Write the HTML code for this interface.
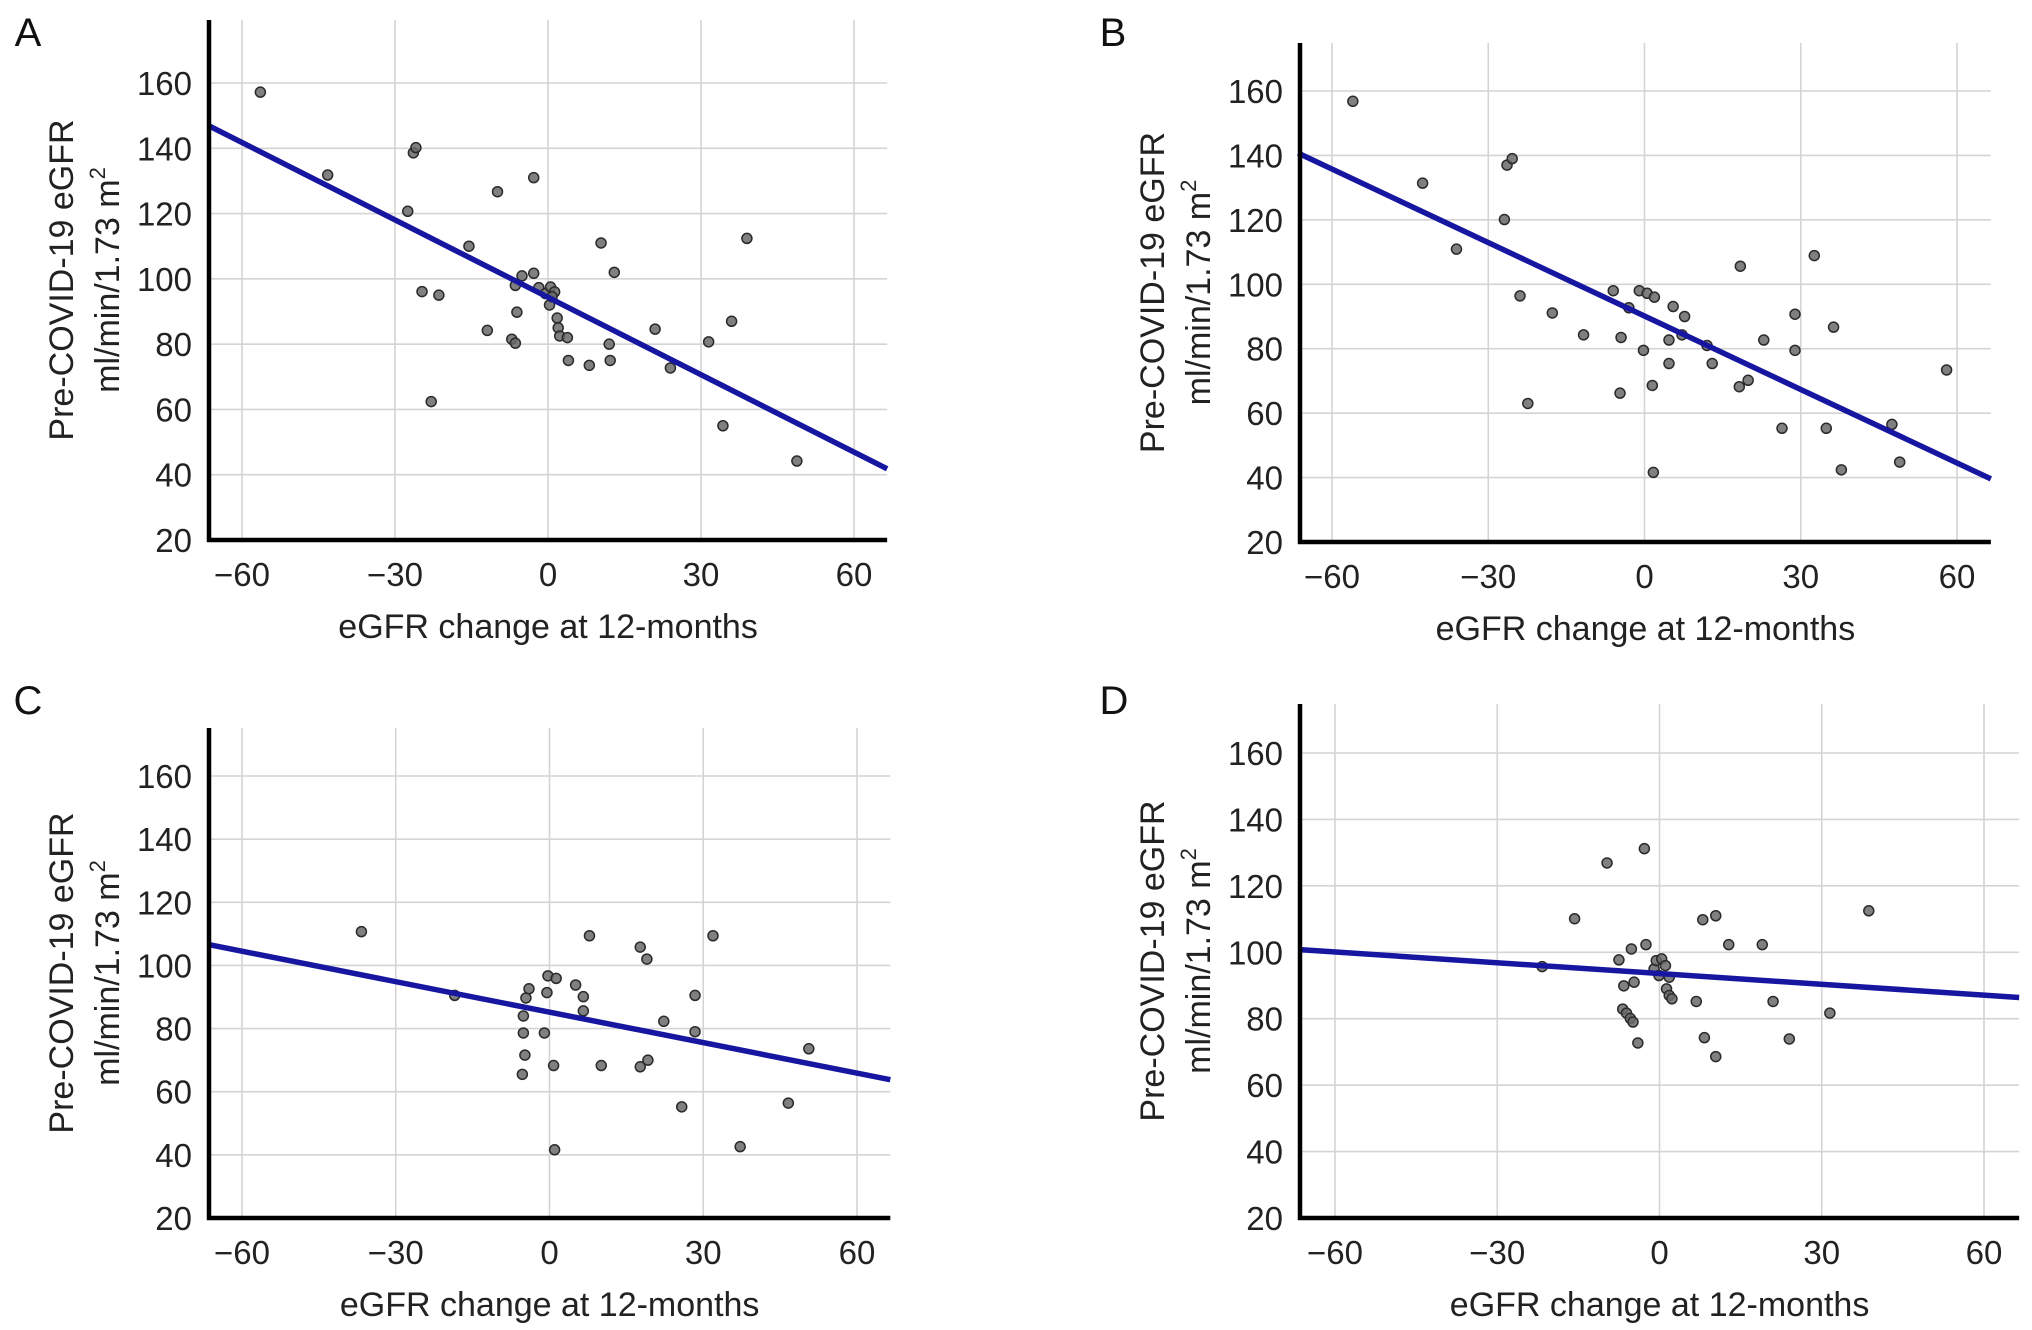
<!DOCTYPE html>
<html><head><meta charset="utf-8"><style>
html,body{margin:0;padding:0;background:#fff;}
svg{display:block;font-family:"Liberation Sans",Arial,sans-serif;}
</style></head><body>
<svg id="fig" width="2032" height="1330" viewBox="0 0 2032 1330" xmlns="http://www.w3.org/2000/svg"></svg>
<script>
// Shared tick values
const xTicks = [-60, -30, 0, 30, 60];
const yTicks = [20, 40, 60, 80, 100, 120, 140, 160];
const xDomain = [-66.5, 66.5];

// Panel A data
const aX = [-56.4,-43.2,-27.5,-26.4,-25.9,-24.7,-21.4,-22.9,-15.5,-11.9,-9.9,-7.1,-6.4,-6.1,-6.4,-5.1,-2.8,-2.8,-1.8,-0.5,0.5,1.3,0.3,0.8,1.8,2.0,2.3,3.8,4.0,8.1,10.4,12.0,12.2,13.0,21.0,24.0,31.5,34.3,36.0,39.0,48.8];
const aY = [157.2,131.8,120.7,138.6,140.2,96.1,95.0,62.4,110.0,84.2,126.7,81.5,80.3,89.8,98.0,100.9,131.0,101.7,97.3,95.5,97.5,96.0,92.0,94.5,88.0,85.0,82.5,82.0,75.0,73.5,111.0,80.0,75.0,102.0,84.6,72.7,80.7,55.0,87.0,112.4,44.2];
const aLine = [146.9, 41.8];

// Panel B data
const bX = [-56.0,-42.6,-36.1,-26.9,-26.4,-25.4,-23.9,-22.4,-17.7,-11.7,-6.0,-4.7,-4.5,-3.0,-1.0,-0.2,0.5,1.9,1.5,1.7,4.7,5.5,4.7,7.2,7.7,12.0,13.0,22.9,18.4,18.2,19.9,26.4,28.9,28.9,32.6,34.9,36.3,37.8,47.5,49.0,58.0];
const bY = [156.8,131.4,110.9,120.1,137.0,139.0,96.4,63.0,91.1,84.3,98.0,66.2,83.5,92.7,98.0,79.5,97.2,96.0,68.6,41.6,82.7,93.1,75.4,84.3,90.0,81.0,75.4,82.7,105.6,68.2,70.2,55.3,90.7,79.5,108.9,55.3,86.7,42.4,56.5,44.8,73.4];
const bLine = [140.7, 39.6];

// Panel C data
const cX = [-36.7,-18.5,-5.3,-4.8,-5.1,-5.1,-4.6,-4.0,-1.0,-0.5,-0.3,1.3,1.0,0.8,5.1,6.6,6.6,7.8,10.1,17.7,19.0,17.7,19.2,22.3,25.8,28.4,28.4,31.9,37.2,46.6,50.6];
const cY = [110.7,90.5,65.5,71.6,78.6,84.0,89.7,92.6,78.6,91.4,96.7,95.9,41.6,68.3,93.8,90.1,85.6,109.4,68.3,105.8,102.0,67.9,70.0,82.3,55.2,90.5,79.0,109.4,42.6,56.4,73.6];
const cLine = [106.6, 63.8];

// Panel D data
const dX = [-21.7,-15.7,-9.7,-7.5,-6.8,-6.1,-5.4,-4.9,-6.6,-4.7,-4.0,-2.8,-2.5,-5.2,-1.0,-0.6,0.4,-0.1,1.1,1.8,1.3,1.8,2.3,6.8,8.0,8.3,10.4,10.4,12.8,19.0,21.0,24.0,31.5,38.7];
const dY = [95.7,110.1,126.9,97.7,82.9,81.7,80.1,79.0,89.9,91.0,72.7,131.2,102.3,101.0,95.0,97.5,98.0,93.0,96.0,92.5,89.0,87.0,86.0,85.2,109.8,74.3,111.0,68.6,102.3,102.3,85.2,73.9,81.7,112.5];
const dLine = [100.8, 86.4];

const svg = document.getElementById('fig');
const NS = 'http://www.w3.org/2000/svg';
function mk(tag, attrs, parent) {
  const e = document.createElementNS(NS, tag);
  for (const k in attrs) e.setAttribute(k, attrs[k]);
  (parent || svg).appendChild(e);
  return e;
}

function panel(cfg, xs, ys, lineEnds) {
  const g = mk('g', {});
  
  
  const xScale = v => cfg.xm60 + (v + 60) * (cfg.x60 - cfg.xm60) / 120;
  const yScale = v => cfg.axY + (v - 20) * (cfg.y160 - cfg.axY) / 140;
  const left = xScale(xDomain[0]);
  const right = xScale(xDomain[1]);
  yTicks.forEach(t => {
    if (t === 20) return;
    const l = mk('line', {x1: cfg.axX, x2: right, y1: yScale(t), y2: yScale(t), stroke: '#d4d4d4', 'stroke-width': 1.6}, g);
    
    
  });
  xTicks.forEach(t => {
    const l = mk('line', {x1: xScale(t), x2: xScale(t), y1: cfg.top, y2: cfg.axY, stroke: '#d4d4d4', 'stroke-width': 1.6}, g);
    
    
  });
  xs.forEach((xv, i) => {
    const c = mk('circle', {cx: xScale(xv), cy: yScale(ys[i]), r: 5, fill: '#6a6a6a', stroke: '#2a2a2a', 'stroke-width': 1.5, 'fill-opacity': 0.85}, g);
    
    
  });
  const rl = mk('line', {x1: left, y1: yScale(lineEnds[0]), x2: right, y2: yScale(lineEnds[1]), stroke: '#1616a0', 'stroke-width': 5.5}, g);
  
  
  const ya = mk('line', {x1: cfg.axX, x2: cfg.axX, y1: cfg.top, y2: cfg.axY + 2, stroke: '#000', 'stroke-width': 4.5}, g);
  
  
  const xa = mk('line', {x1: cfg.axX - 2, x2: right, y1: cfg.axY, y2: cfg.axY, stroke: '#000', 'stroke-width': 4.5}, g);
  
  
  yTicks.forEach(t => {
    const tx = mk('text', {x: cfg.axX - 17, y: yScale(t) + 12, 'text-anchor': 'end', 'font-size': 33, fill: '#222'}, g);
    tx.textContent = t;
    
    
  });
  xTicks.forEach(t => {
    const tx = mk('text', {x: xScale(t), y: cfg.axY + 46, 'text-anchor': 'middle', 'font-size': 33, fill: '#222'}, g);
    tx.textContent = t < 0 ? '\u2212' + Math.abs(t) : t;
    
    
  });
  const xt = mk('text', {x: (cfg.axX + right) / 2, y: cfg.axY + 98, 'text-anchor': 'middle', 'font-size': 34, fill: '#222'}, g);
  xt.textContent = 'eGFR change at 12-months';
  
  
  const cy = (cfg.top + cfg.axY) / 2;
  const y1 = mk('text', {x: 0, y: 0, 'text-anchor': 'middle', 'font-size': 34, fill: '#222', transform: `translate(${cfg.axX - 136},${cy}) rotate(-90)`}, g);
  y1.textContent = 'Pre-COVID-19 eGFR';
  
  
  const y2 = mk('text', {x: 0, y: 0, 'text-anchor': 'middle', 'font-size': 34, fill: '#222', transform: `translate(${cfg.axX - 90},${cy}) rotate(-90)`}, g);
  y2.innerHTML = 'ml/min/1.73 m<tspan dy="-14" font-size="22">2</tspan>';
  
  
  const pl = mk('text', {x: cfg.lx, y: cfg.ly, 'text-anchor': 'middle', 'font-size': 40, fill: '#111'}, g);
  pl.textContent = cfg.id;
  
  
}

panel({id: 'A', axX: 209, axY: 540, xm60: 242, x60: 854, y160: 83, top: 20, lx: 28, ly: 46}, aX, aY, aLine);
panel({id: 'B', axX: 1300, axY: 542, xm60: 1332, x60: 1957, y160: 91, top: 43, lx: 1113, ly: 46}, bX, bY, bLine);
panel({id: 'C', axX: 209, axY: 1218, xm60: 242, x60: 857, y160: 776, top: 728, lx: 28, ly: 714}, cX, cY, cLine);
panel({id: 'D', axX: 1300, axY: 1218, xm60: 1335, x60: 1984, y160: 753, top: 704, lx: 1114, ly: 714}, dX, dY, dLine);
</script>
</body></html>
